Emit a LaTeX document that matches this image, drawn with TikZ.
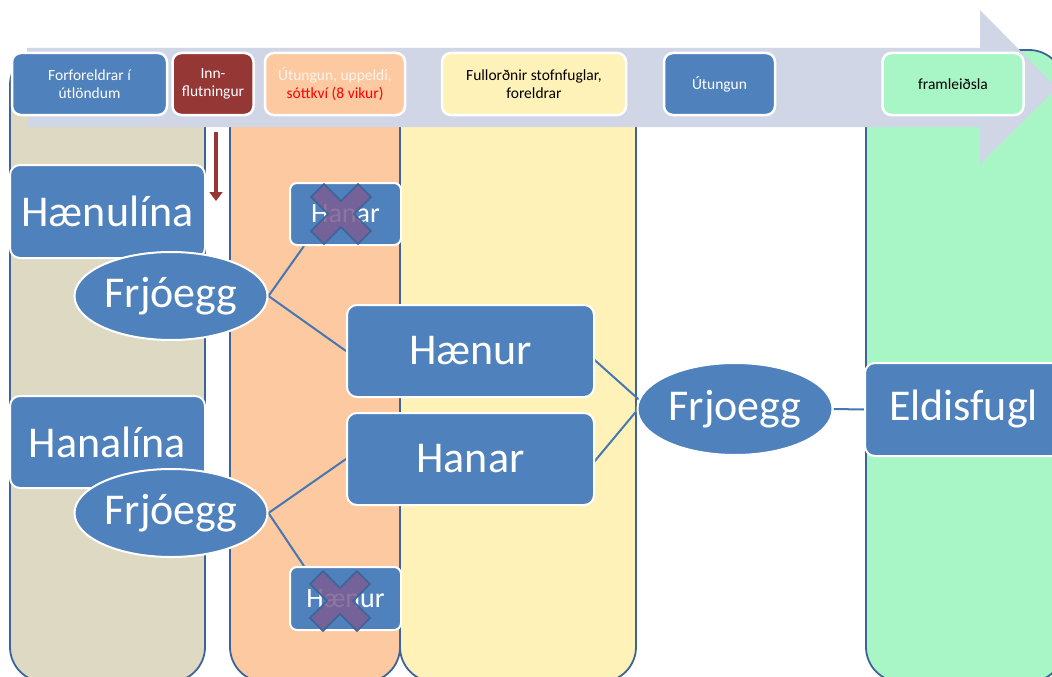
\documentclass[tikz,border=0pt]{standalone}
\usepackage{fontspec}
\setmainfont{Carlito}
\usetikzlibrary{shapes.geometric,arrows.meta,calc}
\definecolor{bblue}{HTML}{4F81BD}
\definecolor{colborder}{HTML}{3E6497}
\definecolor{beige}{HTML}{DDD9C3}
\definecolor{peach}{HTML}{FCC9A1}
\definecolor{pyellow}{HTML}{FFF2B8}
\definecolor{pgreen}{HTML}{A8F6C6}
\definecolor{arrowgray}{HTML}{D0D6E6}
\definecolor{dred}{HTML}{953735}
\definecolor{xpurple}{HTML}{7B5D92}
\definecolor{linkblue}{HTML}{4677B3}
\definecolor{lightpeach}{HTML}{FFF4EC}
\pgfdeclarelayer{back}
\pgfdeclarelayer{mid}
\pgfsetlayers{back,mid,main}
\begin{document}
\begin{tikzpicture}[x=1pt,y=-1pt,
  col/.style={draw=colborder, line width=1.8pt, rounded corners=35pt},
  topbox/.style={draw=white, line width=2.5pt, rounded corners=9pt, minimum height=62pt, inner sep=0pt, align=center, font=\fontsize{15.5}{18.5}\selectfont},
  bigbox/.style={draw=white, line width=2pt, rounded corners=10pt, fill=bblue, text=white, font=\fontsize{44}{50}\selectfont, inner sep=0pt},
  smallbox/.style={bigbox, font=\fontsize{28}{32}\selectfont, rounded corners=7pt},
  egg/.style={ellipse, draw=white, line width=2pt, fill=bblue, text=white, font=\fontsize{44}{50}\selectfont, inner sep=0pt},
  link/.style={draw=linkblue, line width=2pt},
  cross/.style={fill=xpurple, fill opacity=0.85, draw=colborder, line width=1.5pt},
  xmark/.pic={\path[cross] (-30,-17)--(-17,-30)--(0,-13)--(17,-30)--(30,-17)--(13,0)--(30,17)--(17,30)--(0,13)--(-17,30)--(-30,17)--(-13,0)--cycle;}
]
\useasboundingbox (0,0) rectangle (1052,677);
\clip (0,0) rectangle (1052,677);

\begin{pgfonlayer}{back}
% columns
\draw[col, fill=beige] (10,50) rectangle (205,682);
\draw[col, fill=peach] (230,50) rectangle (400,682);
\draw[col, fill=pyellow] (400,50) rectangle (636,682);
\draw[col, fill=pgreen] (866,50) rectangle (1064,682);
% timeline arrow
\fill[arrowgray] (27,48) -- (980,48) -- (980,10) -- (1057,88) -- (980,164) -- (980,127) -- (27,127) -- cycle;
% top boxes
\node[topbox, fill=bblue, text=white, minimum width=155pt] (t1) at (89.5,84) {Forforeldrar í\\útlöndum};
\node[topbox, fill=dred, text=white, minimum width=81pt] (t2) at (213,84) {Inn-\\flutningur};
\node[topbox, fill=peach, minimum width=140pt] (t3) at (335,84) {\textcolor{lightpeach}{Útungun, uppeldi,}\\\textcolor{red}{sóttkví (8 vikur)}};
\node[topbox, fill=pyellow, text=black, minimum width=184pt] (t4) at (534,84) {Fullorðnir stofnfuglar,\\foreldrar};
\node[topbox, fill=bblue, text=white, minimum width=111pt] (t5) at (719.5,84) {Útungun};
\node[topbox, fill=pgreen, text=black, minimum width=141pt] (t6) at (953,84) {framleiðsla};
% red arrow
\coordinate (rs) at (216,132);
\coordinate (re) at (216,201);
\draw[dred, line width=4.5pt, -{Triangle[width=13pt,length=9pt]}] (rs) -- (re);
\end{pgfonlayer}

% main nodes
\node[bigbox, minimum width=195pt, minimum height=93pt] (hl) at (107.5,211.5) {Hænulína};
\node[bigbox, minimum width=195pt, minimum height=92pt] (hal) at (107.5,442) {Hanalína};
\node[egg, minimum width=193pt, minimum height=88pt] (e1) at (171,296) {Frjóegg};
\node[egg, minimum width=193pt, minimum height=88pt] (e2) at (171,513) {Frjóegg};
\node[smallbox, minimum width=111pt, minimum height=62pt] (hs) at (345.5,214) {Hanar};
\node[smallbox, minimum width=111pt, minimum height=63pt] (ns) at (345.5,598.5) {Hænur};
\node[bigbox, minimum width=247pt, minimum height=92pt] (hb) at (470.5,351) {Hænur};
\node[bigbox, minimum width=247pt, minimum height=92pt] (nb) at (470.5,459) {Hanar};
\node[egg, minimum width=195pt, minimum height=92pt] (f3) at (735,409) {Frjoegg};
\node[bigbox, minimum width=197pt, minimum height=93pt] (eld) at (963.5,409.5) {Eldisfugl};

\begin{pgfonlayer}{mid}
\draw[link] (e1.east) -- ($(hs.south west)+(15,0)$);
\draw[link] (e1.east) -- (hb.west);
\draw[link] (e2.east) -- (nb.west);
\draw[link] (e2.east) -- ($(ns.north west)+(15,0)$);
\draw[link] ($(hb.east)+(-6,4)$) -- ($(f3.west)+(4,-8)$);
\draw[link] ($(nb.east)+(-1,3)$) -- ($(f3.west)+(10,-10)$);
\draw[link] (f3.east) -- (eld.west);
\end{pgfonlayer}

% crosses
\pic at (341,214) {xmark};
\pic at (340,601) {xmark};
\end{tikzpicture}
\end{document}
